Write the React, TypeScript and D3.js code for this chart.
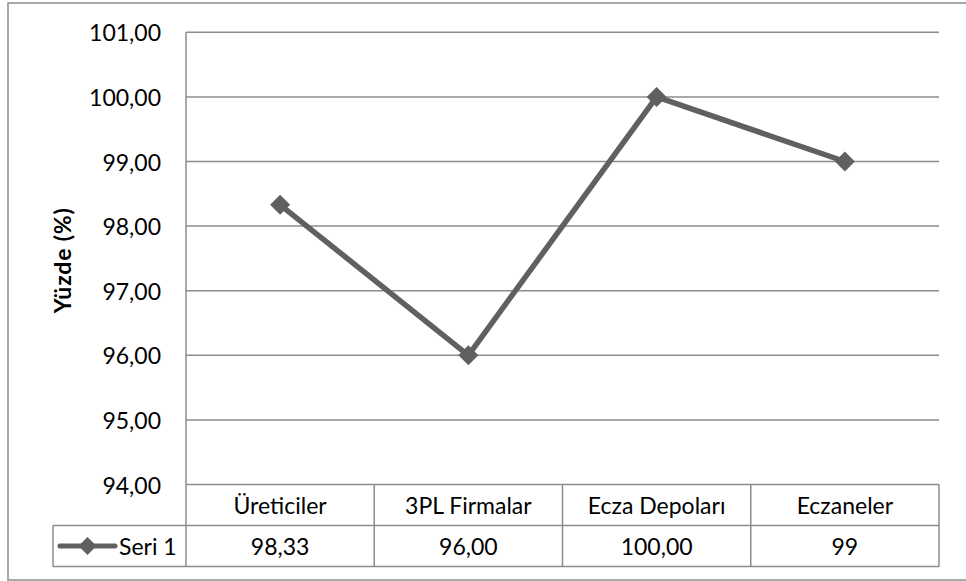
import React from "react";
import * as d3 from "d3";

// Series data
const categories = ["Üreticiler", "3PL Firmalar", "Ecza Depoları", "Eczaneler"];
const values = [98.33, 96.0, 100.0, 99.0];
const valueLabels = ["98,33", "96,00", "100,00", "99"];
const yTicks = [94, 95, 96, 97, 98, 99, 100, 101];
const seriesName = "Seri 1";
const yTitle = "Yüzde (%)";

const W = 966;
const H = 581;
const FONT = "Lato, 'Open Sans', sans-serif";
const GRID = "#8c8c8c";
const LINE = "#606060";

const plotLeft = 186;
const plotRight = 939;
const plotTop = 32.3;
const plotBottom = 484.5;
const rowH = 41;
const legendLeft = 53;

const fmt = (v: number) => v.toFixed(2).replace(".", ",");

function Diamond({ cx, cy, r }: { cx: number; cy: number; r: number }) {
  const p = d3.path();
  p.moveTo(cx, cy - r);
  p.lineTo(cx + r, cy);
  p.lineTo(cx, cy + r);
  p.lineTo(cx - r, cy);
  p.closePath();
  return <path d={p.toString()} fill={LINE} />;
}

export default function App() {
  const y = d3.scaleLinear().domain([94, 101]).range([plotBottom, plotTop]);
  const x = d3.scaleBand<string>().domain(categories).range([plotLeft, plotRight]).padding(0);
  const cx = (c: string) => (x(c) as number) + x.bandwidth() / 2;

  const line = d3
    .line<number>()
    .x((_, i) => cx(categories[i]))
    .y((v) => y(v));

  const headerTop = plotBottom;
  const valueTop = headerTop + rowH;
  const tableBottom = valueTop + rowH;
  const legendMidY = valueTop + rowH / 2;

  return (
    <svg
      width={W}
      height={H}
      style={{ position: "absolute", left: 0, top: 0, background: "#fff" }}
      fontFamily={FONT}
    >
      {/* chart area border */}
      <rect x={8} y={3} width={W + 20} height={577} fill="#fff" stroke={GRID} strokeWidth={1.5} />

      {/* horizontal gridlines */}
      {yTicks
        .filter((t) => t > 94)
        .map((t) => (
          <line key={t} x1={plotLeft} x2={plotRight} y1={y(t)} y2={y(t)} stroke={GRID} strokeWidth={1.5} />
        ))}
      {/* value axis line */}
      <line x1={plotLeft} x2={plotLeft} y1={plotTop} y2={plotBottom} stroke={GRID} strokeWidth={1.5} />

      {/* tick labels */}
      {yTicks.map((t) => (
        <text key={t} x={161} y={y(t)} textAnchor="end" dominantBaseline="central" fontSize={23} fill="#000">
          {fmt(t)}
        </text>
      ))}

      {/* axis title */}
      <text
        transform={`translate(62,${(plotTop + plotBottom) / 2 + 2}) rotate(-90)`}
        textAnchor="middle"
        dominantBaseline="central"
        fontSize={23}
        fontWeight="bold"
        letterSpacing={0.8}
        fill="#000"
      >
        {yTitle}
      </text>

      {/* data table */}
      <g stroke={GRID} strokeWidth={1.5} fill="none">
        <line x1={plotLeft} x2={plotRight} y1={headerTop} y2={headerTop} />
        <line x1={legendLeft} x2={plotRight} y1={valueTop} y2={valueTop} />
        <line x1={legendLeft} x2={plotRight} y1={tableBottom} y2={tableBottom} />
        <line x1={legendLeft} x2={legendLeft} y1={valueTop} y2={tableBottom} />
        {categories.map((c) => (
          <line key={c} x1={x(c) as number} x2={x(c) as number} y1={headerTop} y2={tableBottom} />
        ))}
        <line x1={plotRight} x2={plotRight} y1={headerTop} y2={tableBottom} />
      </g>
      {categories.map((c, i) => (
        <g key={c}>
          <text x={cx(c)} y={headerTop + rowH / 2} textAnchor="middle" dominantBaseline="central" fontSize={23} fill="#000">
            {c}
          </text>
          <text x={cx(c)} y={legendMidY} textAnchor="middle" dominantBaseline="central" fontSize={23} fill="#000">
            {valueLabels[i]}
          </text>
        </g>
      ))}

      {/* legend key in the table */}
      <line x1={60} x2={115} y1={legendMidY} y2={legendMidY} stroke={LINE} strokeWidth={5} strokeLinecap="round" />
      <Diamond cx={87.5} cy={legendMidY} r={9} />
      <text x={119} y={legendMidY} dominantBaseline="central" fontSize={23} fill="#000">
        {seriesName}
      </text>

      {/* series line */}
      <path d={line(values) ?? ""} fill="none" stroke={LINE} strokeWidth={5.5} strokeLinejoin="round" />
      {values.map((v, i) => (
        <Diamond key={i} cx={cx(categories[i])} cy={y(v)} r={10} />
      ))}
    </svg>
  );
}
